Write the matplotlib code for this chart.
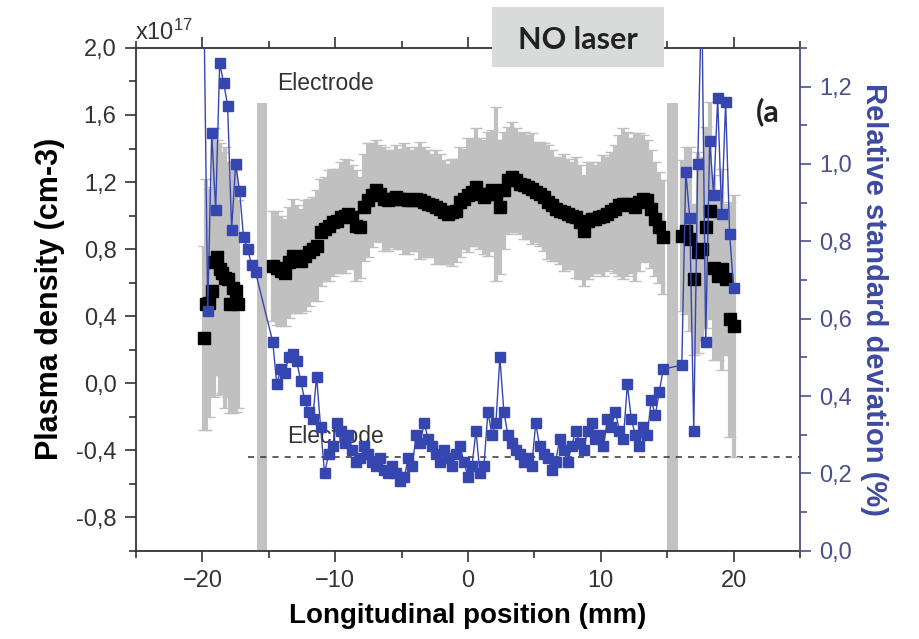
import numpy as np
import matplotlib
matplotlib.use('Agg')
import matplotlib.pyplot as plt
from matplotlib.ticker import FuncFormatter, MultipleLocator
from matplotlib.patches import Rectangle

plt.rcParams['font.family'] = ['Liberation Sans', 'DejaVu Sans']
plt.rcParams['mathtext.default'] = 'regular'

# plasma density (x1e17 cm-3), three groups of positions (mm)
x_left = [-19.9, -19.7, -19.5, -19.3, -19.1, -18.9, -18.7, -18.5, -18.3, -18.1, -17.9, -17.7, -17.5, -17.3]
dens_left = [0.27, 0.47, 0.48, 0.55, 0.72, 0.75, 0.68, 0.66, 0.63, 0.62, 0.47, 0.57, 0.55, 0.47]
err_left = [0.55, 0.75, 0.68, 0.62, 0.80, 0.70, 0.75, 0.72, 0.78, 0.70, 0.65, 0.75, 0.72, 0.62]

x_mid = np.round(np.linspace(-14.7, 14.7, 99), 1)
dens_mid = [0.70, 0.69, 0.67, 0.66, 0.72, 0.76, 0.74, 0.73, 0.76, 0.78,
            0.80, 0.82, 0.90, 0.92, 0.94, 0.96, 0.97, 0.99, 1.00, 1.01,
            0.99, 0.94, 0.93, 1.05, 1.09, 1.12, 1.15, 1.13, 1.10, 1.09,
            1.10, 1.11, 1.10, 1.10, 1.09, 1.09, 1.10, 1.09, 1.08, 1.07,
            1.06, 1.05, 1.04, 1.02, 1.01, 1.02, 1.03, 1.08, 1.10, 1.12,
            1.14, 1.17, 1.13, 1.11, 1.13, 1.15, 1.13, 1.05, 1.15, 1.21,
            1.23, 1.21, 1.19, 1.18, 1.17, 1.16, 1.14, 1.13, 1.11, 1.08,
            1.06, 1.04, 1.03, 1.02, 1.01, 1.00, 0.99, 0.96, 0.91, 0.97,
            0.98, 0.98, 0.99, 1.00, 1.01, 1.03, 1.04, 1.06, 1.07, 1.07,
            1.06, 1.05, 1.08, 1.10, 1.09, 1.04, 0.98, 0.93, 0.87]
err_mid = [0.33, 0.34, 0.33, 0.32, 0.33, 0.34, 0.32, 0.31, 0.33, 0.32,
           0.31, 0.33, 0.32, 0.31, 0.33, 0.32, 0.31, 0.33, 0.34, 0.32,
           0.31, 0.33, 0.30, 0.32, 0.34, 0.31, 0.30, 0.29, 0.31, 0.30,
           0.29, 0.31, 0.30, 0.33, 0.32, 0.30, 0.31, 0.35, 0.33, 0.32,
           0.31, 0.34, 0.33, 0.31, 0.30, 0.32, 0.31, 0.33, 0.30, 0.34,
           0.32, 0.35, 0.33, 0.34, 0.37, 0.36, 0.52, 0.40, 0.35, 0.32,
           0.33, 0.31, 0.30, 0.32, 0.31, 0.33, 0.30, 0.31, 0.32, 0.34,
           0.33, 0.31, 0.32, 0.35, 0.33, 0.32, 0.36, 0.34, 0.33, 0.35,
           0.34, 0.32, 0.33, 0.36, 0.34, 0.35, 0.38, 0.42, 0.45, 0.43,
           0.40, 0.44, 0.41, 0.38, 0.36, 0.35, 0.34, 0.33, 0.34]

x_right = [16.1, 16.4, 16.7, 17.0, 17.3, 17.6, 17.9, 18.2, 18.5, 18.8, 19.1, 19.4, 19.7, 20.0]
dens_right = [0.88, 0.91, 0.86, 0.62, 0.78, 0.80, 0.93, 1.03, 0.69, 0.64, 0.68, 0.62, 0.38, 0.34]
err_right = [0.45, 0.50, 0.55, 0.45, 0.60, 0.55, 0.60, 0.65, 0.55, 0.50, 0.60, 0.45, 0.70, 0.78]

# relative standard deviation (%)
xs_left = [-19.9, -19.6, -19.3, -19.0, -18.7, -18.4, -18.1, -17.8, -17.5, -17.2, -16.9, -16.6, -16.3, -16.0]
rsd_left = [1.45, 0.62, 1.08, 0.88, 1.26, 1.21, 1.15, 0.83, 1.00, 0.93, 0.81, 0.78, 0.74, 0.72]
rsd_mid = [0.54, 0.43, 0.47, 0.46, 0.50, 0.51, 0.49, 0.44, 0.39, 0.36,
           0.34, 0.45, 0.32, 0.20, 0.25, 0.27, 0.33, 0.31, 0.28, 0.30,
           0.26, 0.23, 0.24, 0.27, 0.25, 0.23, 0.22, 0.24, 0.21, 0.20,
           0.22, 0.20, 0.18, 0.19, 0.24, 0.22, 0.30, 0.28, 0.33, 0.29,
           0.27, 0.25, 0.23, 0.26, 0.24, 0.22, 0.25, 0.27, 0.23, 0.19,
           0.22, 0.31, 0.20, 0.22, 0.36, 0.30, 0.33, 0.50, 0.36, 0.30,
           0.28, 0.26, 0.25, 0.23, 0.24, 0.22, 0.33, 0.27, 0.25, 0.24,
           0.21, 0.23, 0.29, 0.26, 0.23, 0.27, 0.31, 0.28, 0.26, 0.31,
           0.33, 0.29, 0.30, 0.27, 0.34, 0.32, 0.36, 0.31, 0.29, 0.43,
           0.34, 0.30, 0.27, 0.32, 0.30, 0.39, 0.35, 0.41, 0.47]
xs_right = [16.1, 16.4, 16.7, 17.0, 17.3, 17.6, 17.9, 18.2, 18.5, 18.8, 19.1, 19.4, 19.7, 20.0]
rsd_right = [0.48, 0.98, 0.86, 0.31, 1.00, 1.45, 0.54, 1.06, 0.92, 1.17, 0.87, 1.16, 0.82, 0.68]

electrodes = [(-15.9, -15.1), (15.0, 15.85)]
electrode_top = 1.67
threshold = -0.44

blue = '#3646b0'
axis_blue = '#4b4f8c'

fig = plt.figure(figsize=(9.19, 6.39), dpi=100)
ax = fig.add_axes([0.148, 0.138, 0.7225, 0.787])
ax2 = ax.twinx()

for a, b in electrodes:
    ax.fill_between([a, b], -1.0, electrode_top, color='#c2c2c2', lw=0, zorder=1)

ax.hlines(threshold, -16.6, 25, colors='#333333', linestyles=(0, (4, 4)), lw=1.1, zorder=2)
ax.text(-14.4, 1.79, 'Electrode', fontsize=16.5, color='#333333', va='center', zorder=1)
ax.text(-13.6, -0.32, 'Electrode', fontsize=16.5, color='#333333', va='center', zorder=1)

x_all = list(x_left) + list(x_mid) + list(x_right)
d_all = dens_left + dens_mid + dens_right
e_all = err_left + err_mid + err_right
eb = ax.errorbar(x_all, d_all, yerr=e_all, fmt='none', ecolor='#c0c0c0', elinewidth=3,
                 capsize=4, capthick=1, zorder=3)
for cap in eb[1]:
    cap.set_color('#9a9a9a')
ax.plot(x_all, d_all, 's', color='black', ms=8, zorder=4)

for xs, ys in [(xs_left, rsd_left), (x_mid, rsd_mid), (xs_right, rsd_right)]:
    ax2.plot(xs, ys, '-s', color=blue, ms=7.5, lw=1.0)
ax2.plot([xs_left[-1], x_mid[0]], [rsd_left[-1], rsd_mid[0]], '-', color=blue, lw=1.0)
ax2.plot([x_mid[-1], xs_right[0]], [rsd_mid[-1], rsd_right[0]], '-', color=blue, lw=1.0)

ax.set_xlim(-25, 25)
ax.set_ylim(-1.0, 2.0)
ax2.set_ylim(0, 1.3)

comma = FuncFormatter(lambda v, p: ('%.1f' % v).replace('.', ',').replace('-0,0', '0,0'))
ax.set_yticks(np.arange(-0.8, 2.01, 0.4))
ax.yaxis.set_minor_locator(MultipleLocator(0.2))
ax.yaxis.set_major_formatter(comma)
ax.set_xticks([-20, -10, 0, 10, 20])
ax.xaxis.set_minor_locator(MultipleLocator(5))
ax2.set_yticks(np.arange(0, 1.21, 0.2))
ax2.yaxis.set_minor_locator(MultipleLocator(0.1))
ax2.yaxis.set_major_formatter(comma)

ax.tick_params(axis='both', which='major', direction='out', length=8, width=1.2,
               labelsize=17, colors='#333333', pad=6)
ax.tick_params(axis='both', which='minor', direction='out', length=5, width=1.2, colors='#333333')
ax.tick_params(axis='x', which='both', top=True, labeltop=False)
ax2.tick_params(axis='y', which='major', direction='out', length=8, width=1.2,
                labelsize=17, colors=axis_blue, pad=6)
ax2.tick_params(axis='y', which='minor', direction='out', length=5, width=1.2, colors=axis_blue)

for s in ['left', 'bottom', 'top']:
    ax.spines[s].set_color('#333333')
    ax.spines[s].set_linewidth(1.3)
ax2.spines['right'].set_color(axis_blue)
ax2.spines['right'].set_linewidth(1.3)
ax.spines['right'].set_visible(False)
for s in ['left', 'bottom', 'top']:
    ax2.spines[s].set_visible(False)

ax.set_xlabel('Longitudinal position (mm)', fontsize=20, fontweight='bold', labelpad=8)
ax.set_ylabel('Plasma density (cm-3)', fontsize=22, fontweight='bold', labelpad=8)
ax2.set_ylabel('Relative standard deviation (%)', fontsize=21, fontweight='bold',
               color='#3d4aa0', rotation=-90, labelpad=26)

fig.text(0.147, 0.95, r'x10$^{17}$', fontsize=17, color='#333333', va='center')
fig.patches.append(Rectangle((0.535, 0.895), 0.1875, 0.094, transform=fig.transFigure,
                             facecolor='#d9dbdb', edgecolor='none', zorder=10))
fig.text(0.629, 0.937, 'NO laser', fontsize=22, fontweight='bold', family=['Lato', 'DejaVu Sans'],
         ha='center', va='center', color='#222222', zorder=11)
ax.text(22.6, 1.62, '(a', fontsize=22, fontweight='bold', family=['Lato', 'DejaVu Sans'],
        ha='center', va='center', color='#222222')

fig.savefig('out.png', dpi=100)
